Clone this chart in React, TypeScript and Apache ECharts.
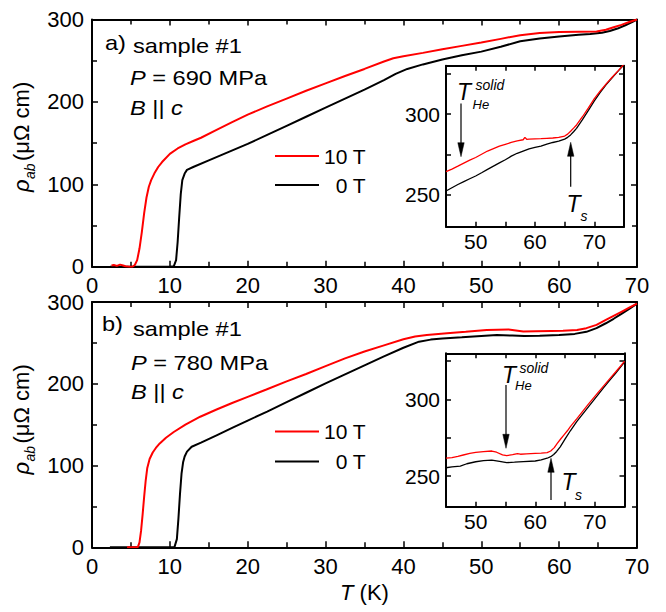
import React, { useEffect, useRef } from "react";
import * as echarts from "echarts";

const FONT = '"Liberation Sans", Arial, Helvetica, sans-serif';

// ---------- Panel a (P = 690 MPa), main plot ----------
const A_T_0T = [2.3, 4, 6, 8, 10, 10.5, 10.8, 11.0, 11.2, 11.4, 11.6, 11.9, 12.2, 13, 15, 17.5, 20, 22.5, 25, 27.5, 30, 32.5, 35, 37.5, 39, 40.5, 42.5, 45, 47.5, 50, 52.5, 55, 57.5, 60, 62.5, 64, 65.5, 66.5, 67.5, 68.5, 69.3, 70];
const A_R_0T = [0, 0, 0, 0, 0, 0.5, 8, 30, 60, 88, 105, 113, 117.5, 121, 129, 139, 149, 160, 171, 182, 193, 204, 215, 226.5, 234, 240, 245.5, 251.5, 256.5, 261, 267, 273.5, 277, 279.5, 281.5, 282.5, 284, 286, 289, 293, 296.5, 300];
const A_T_10T = [2.5, 2.8, 3.2, 3.6, 4.0, 4.3, 4.8, 5.2, 5.5, 5.8, 6.1, 6.4, 6.7, 7.0, 7.3, 7.6, 8.0, 8.5, 9, 10, 11, 12, 13, 14, 16, 18, 20, 22.5, 25, 27.5, 30, 32.5, 35, 37.5, 38.7, 40, 42.5, 45, 47.5, 50, 52.5, 55, 57.5, 60, 62.5, 64.8, 66, 67, 68, 69, 70];
const A_R_10T = [1.5, 2, 1, 2.5, 1.5, 0.5, 0, 0, 2, 8, 22, 42, 65, 84, 97, 105, 113, 121, 127, 137, 143.5, 148.5, 152.5, 156.5, 166, 175.5, 184.5, 194.5, 204, 213.5, 222.5, 231.5, 240, 249, 253, 255.5, 259.5, 264, 268, 272, 276.5, 281, 283.5, 284.7, 285.2, 285.5, 287.5, 290.5, 293.5, 297, 300];

// ---------- Panel b (P = 780 MPa), main plot ----------
const B_T_0T = [2.3, 5, 8, 10, 10.6, 10.9, 11.1, 11.3, 11.5, 11.7, 11.9, 12.2, 12.8, 14, 16, 18, 20, 22.5, 25, 27.5, 30, 32.5, 35, 37.5, 40, 42, 43.5, 45, 47.5, 50, 52, 54, 55.5, 57.5, 60, 62, 63.5, 64.8, 66, 67, 68, 69, 70];
const B_R_0T = [0, 0, 0, 0, 0.5, 10, 35, 65, 90, 104, 111, 117, 123, 128, 137, 146, 155, 166, 177.5, 189, 200.5, 211.5, 222.5, 233.5, 244, 251.5, 254, 255.5, 256.8, 258.5, 259.5, 259, 258.3, 258.8, 259.5, 261, 263.5, 268, 274, 279.5, 285.5, 291.5, 298];
const B_T_10T = [4.5, 5.5, 5.9, 6.1, 6.3, 6.5, 6.7, 6.9, 7.1, 7.4, 7.8, 8.2, 8.7, 9.5, 10.5, 12, 13.9, 16, 18, 20, 22.4, 25, 27.5, 30, 32.5, 35, 37.5, 40, 41.5, 43, 45.6, 48, 50.7, 53.5, 55.4, 57, 59, 60.5, 62.3, 63.5, 64.8, 66, 67, 68, 69, 70];
const B_R_10T = [0, 0, 0.5, 6, 20, 40, 62, 82, 97, 108, 116, 121.5, 127, 134, 141, 150, 159.7, 168.5, 176.5, 184, 193, 203, 212, 221.5, 231, 239.5, 247, 254.4, 257.8, 259.5, 261.7, 263.5, 265.7, 266.5, 263.8, 264.3, 264.6, 264.8, 265.7, 268, 272, 278, 283, 288, 293, 298];

// ---------- Inset a ----------
const IA_T_10T = [45, 46, 47, 48, 49, 50, 51, 52, 53, 54, 55, 56, 57, 58, 58.3, 58.6, 59, 60, 61, 62, 63, 64, 65, 65.5, 66, 66.5, 67, 68, 69, 70, 71, 72, 73, 74, 75];
const IA_R_10T = [264.2, 265.8, 267.6, 269.5, 271.3, 273, 275, 277, 278.5, 280, 281.2, 282.3, 283.3, 284, 285.5, 284.3, 284.4, 284.6, 284.7, 284.9, 285.1, 285.5, 286.3, 287.5, 289.3, 291.2, 293.2, 298.3, 303.8, 309.5, 314.3, 318.7, 322.8, 326.8, 331];
const IA_T_0T = [45, 46, 47, 48, 49, 50, 51, 52, 53, 54, 55, 56, 57, 58, 59, 60, 61, 62, 63, 64, 65, 65.5, 66, 66.5, 67, 68, 69, 70, 71, 72, 73, 74, 75];
const IA_R_0T = [252.2, 254.2, 256.2, 258, 259.8, 261.5, 263.5, 265.6, 267.6, 269.6, 271.6, 273.8, 275.6, 277, 278.4, 279.2, 280, 281.3, 282.3, 283.1, 284.4, 285.5, 287, 289, 291.1, 296.5, 302.3, 308.2, 313.5, 318.3, 322.5, 326.6, 330.5];

// ---------- Inset b ----------
const IB_T_10T = [45, 46, 47, 47.9, 49, 50, 51.3, 52.7, 53.5, 54.5, 55.2, 56.2, 57, 57.5, 58.5, 60, 61, 62, 62.6, 63.2, 63.7, 64.3, 64.8, 65.4, 65.9, 67, 68, 69, 70.4, 71.5, 72.5, 73.5, 74.5, 75];
const IB_R_10T = [261.6, 262, 262.8, 263.7, 264.7, 265.4, 265.9, 266.3, 265.5, 263.8, 263.3, 263.9, 264.6, 264.2, 264.5, 264.8, 264.9, 265.2, 266.3, 268.5, 271.3, 274.3, 276.7, 279.5, 282.2, 287.4, 292.3, 297.2, 303.7, 308.8, 313.3, 317.8, 322.4, 324.8];
const IB_T_0T = [45, 46, 47.4, 48.5, 50, 51.3, 52.7, 54, 55.2, 56.5, 58, 60, 61, 62, 62.6, 63.1, 63.6, 64.2, 65, 65.9, 67, 68, 69, 70.4, 71.5, 72.5, 73.5, 74.5, 75];
const IB_R_0T = [255.4, 256, 256.5, 258, 259.3, 260, 260.4, 259.6, 258.7, 259, 259.4, 259.8, 260.5, 261.6, 262.6, 264, 266, 269, 274, 279.5, 285.6, 290.5, 295.4, 302.2, 307.6, 312.3, 317, 321.8, 324.3];

// ---------- Axis ticks / labels ----------
const MAIN_X = { min: 0, max: 70, interval: 10 };
const MAIN_Y = { min: 0, max: 300, interval: 100 };
const INSET_X = { min: 45, max: 75, ticks: [50, 55, 60, 65, 70], labels: [50, 60, 70] };
const INSET_Y = { min: 230, max: 330, ticks: [250, 275, 300, 325], labels: [250, 300] };
const LEGEND_NAMES = ["10 T", "0 T"];

const RED = "#ff0000";
const BLACK = "#000000";

const pairs = (t: number[], r: number[]) => t.map((v, i) => [v, r[i]]);

const lineCommon = { color: BLACK, width: 2 };

function mainAxis(kind: "x" | "y", gridIndex: number, position: string, showLabel: boolean) {
  const s = kind === "x" ? MAIN_X : MAIN_Y;
  return {
    type: "value",
    gridIndex,
    position,
    min: s.min,
    max: s.max,
    interval: s.interval,
    axisLine: { show: true, onZero: false, lineStyle: lineCommon },
    axisTick: { show: true, inside: true, length: 6, lineStyle: { color: BLACK, width: 1.5 } },
    minorTick: { show: true, splitNumber: 2, length: 5, lineStyle: { color: BLACK, width: 1.5 } },
    axisLabel: { show: showLabel, margin: 8, fontSize: 22, fontFamily: FONT, color: BLACK },
    splitLine: { show: false },
    minorSplitLine: { show: false },
  };
}

function insetAxis(kind: "x" | "y", gridIndex: number, position: string, showLabel: boolean) {
  const s = kind === "x" ? INSET_X : INSET_Y;
  return {
    type: "value",
    gridIndex,
    position,
    min: s.min,
    max: s.max,
    axisLine: { show: true, onZero: false, lineStyle: lineCommon },
    axisTick: { show: true, inside: true, length: 5, customValues: s.ticks, lineStyle: { color: BLACK, width: 1.5 } },
    axisLabel: { show: showLabel, margin: kind === "x" ? 4 : 6, customValues: s.labels, fontSize: 21, fontFamily: FONT, color: BLACK },
    splitLine: { show: false },
  };
}

function series(name: string, xi: number, t: number[], r: number[], color: string, width: number) {
  return {
    type: "line",
    name,
    xAxisIndex: xi,
    yAxisIndex: xi,
    data: pairs(t, r),
    symbol: "none",
    showSymbol: false,
    lineStyle: { color, width },
    itemStyle: { color },
    z: color === RED ? 4 : 3,
  };
}

const RICH = (size: number) => ({
  i: { fontStyle: "italic", fontSize: size, fontFamily: FONT, fill: BLACK, color: BLACK },
  n: { fontSize: size, fontFamily: FONT, fill: BLACK, color: BLACK },
});

function label(x: number, y: number, text: string, size: number, italic = false, scaleX = 1) {
  return {
    type: "text",
    x,
    y,
    scaleX,
    z: 100,
    style: {
      text,
      fontSize: size,
      fontFamily: FONT,
      fontStyle: italic ? "italic" : "normal",
      fill: BLACK,
      align: "left",
      verticalAlign: "middle",
      textAlign: "left",
      textVerticalAlign: "middle",
      rich: RICH(size),
    },
  };
}

function arrow(x: number, yTail: number, yTip: number) {
  const dir = yTip > yTail ? 1 : -1;
  const headLen = 14;
  const baseY = yTip - dir * headLen;
  return [
    { type: "line", z: 100, shape: { x1: x, y1: yTail, x2: x, y2: baseY + dir * 2 }, style: { stroke: BLACK, lineWidth: 1.2 } },
    { type: "polygon", z: 100, shape: { points: [[x - 3.2, baseY], [x + 3.2, baseY], [x, yTip]] }, style: { fill: BLACK, stroke: BLACK, lineWidth: 0.5 } },
  ];
}

function yTitle(x: number, y: number) {
  const base = { fontFamily: FONT, fill: BLACK, align: "left", verticalAlign: "middle", textAlign: "left", textVerticalAlign: "middle" };
  return {
    type: "group",
    x,
    y,
    rotation: Math.PI / 2,
    z: 100,
    children: [
      { type: "text", x: 0, y: 0, style: { ...base, text: "ρ", fontSize: 22, fontStyle: "italic" } },
      { type: "text", x: 13, y: 9, style: { ...base, text: "ab", fontSize: 14, fontStyle: "italic" } },
      { type: "text", x: 31, y: 0, style: { ...base, text: "(μΩ cm)", fontSize: 22 } },
    ],
  };
}

function legend(top: number, gap: number) {
  return {
    data: LEGEND_NAMES,
    orient: "vertical",
    left: 275,
    top,
    padding: 0,
    icon: "rect",
    itemWidth: 44,
    itemHeight: 2,
    itemGap: gap,
    selectedMode: false,
    formatter: (n: string) => (n === "0 T" ? "{pad|}" + n : n),
    textStyle: { fontSize: 21, fontFamily: FONT, color: BLACK, rich: { pad: { width: 11.7 } } },
  };
}

const SCALE = 1.18;

export default function App() {
  const ref = useRef<HTMLDivElement>(null);
  useEffect(() => {
    const chart = echarts.init(ref.current!, null, { renderer: "svg" });
    const option: any = {
      animation: false,
      backgroundColor: "#ffffff",
      textStyle: { fontFamily: FONT },
      grid: [
        { left: 92, top: 19.5, width: 545, height: 247.2, containLabel: false },
        { left: 92, top: 302, width: 545, height: 245.3, containLabel: false },
        { left: 446, top: 65.7, width: 178, height: 161, containLabel: false },
        { left: 446, top: 353.3, width: 178.5, height: 153.4, containLabel: false },
      ],
      xAxis: [
        mainAxis("x", 0, "bottom", true),
        mainAxis("x", 0, "top", false),
        { ...mainAxis("x", 1, "bottom", true), name: "{i|T} (K)", nameLocation: "middle", nameGap: 34, nameTextStyle: { fontSize: 22, fontFamily: FONT, color: BLACK, rich: { i: { fontStyle: "italic", fontSize: 22, fontFamily: FONT, color: BLACK } } } },
        mainAxis("x", 1, "top", false),
        insetAxis("x", 2, "bottom", true),
        insetAxis("x", 2, "top", false),
        insetAxis("x", 3, "bottom", true),
        insetAxis("x", 3, "top", false),
      ],
      yAxis: [
        mainAxis("y", 0, "left", true),
        mainAxis("y", 0, "right", false),
        mainAxis("y", 1, "left", true),
        mainAxis("y", 1, "right", false),
        insetAxis("y", 2, "left", true),
        insetAxis("y", 2, "right", false),
        insetAxis("y", 3, "left", true),
        insetAxis("y", 3, "right", false),
      ],
      legend: [legend(145.5, 8), legend(421, 9)],
      series: [
        series("0 T", 0, A_T_0T, A_R_0T, BLACK, 2),
        series("10 T", 0, A_T_10T, A_R_10T, RED, 2),
        series("0 T", 2, B_T_0T, B_R_0T, BLACK, 2),
        series("10 T", 2, B_T_10T, B_R_10T, RED, 2),
        series("inset a 0 T", 4, IA_T_0T, IA_R_0T, BLACK, 1.3),
        series("inset a 10 T", 4, IA_T_10T, IA_R_10T, RED, 1.3),
        series("inset b 0 T", 6, IB_T_0T, IB_R_0T, BLACK, 1.3),
        series("inset b 10 T", 6, IB_T_10T, IB_R_10T, RED, 1.3),
      ],
      graphic: [
        yTitle(21, 192),
        yTitle(21, 474.5),
        label(105, 43.5, "a)", 20, false, SCALE),
        label(133, 46.5, "sample #1", 20, false, SCALE),
        label(130, 78.5, "{i|P}{n| = 690 MPa}", 20, false, SCALE),
        label(130, 108, "{i|B}{n| || }{i|c}", 20, false, SCALE),
        label(102, 324.5, "b)", 20, false, SCALE),
        label(133, 329.5, "sample #1", 20, false, SCALE),
        label(131, 363.5, "{i|P}{n| = 780 MPa}", 20, false, SCALE),
        label(131, 392, "{i|B}{n| || }{i|c}", 20, false, SCALE),
        // inset a annotations
        label(457, 91.8, "T", 23, true),
        label(475.5, 85, "solid", 14, true),
        label(472.5, 104, "He", 13, true),
        ...arrow(461, 103.5, 156.7),
        label(566.5, 203.5, "T", 23, true),
        label(580.5, 215.5, "s", 14, true),
        ...arrow(570.7, 186.7, 142.3),
        // inset b annotations
        label(502, 375.2, "T", 23, true),
        label(519.5, 368.3, "solid", 14, true),
        label(515, 385.5, "He", 13, true),
        ...arrow(506, 385, 448.3),
        label(561.5, 482, "T", 23, true),
        label(575, 495, "s", 14, true),
        ...arrow(551, 500, 458.3),
      ],
    };
    chart.setOption(option);
    return () => chart.dispose();
  }, []);
  return <div ref={ref} style={{ position: "absolute", left: 0, top: 0, width: 666, height: 612 }} />;
}
